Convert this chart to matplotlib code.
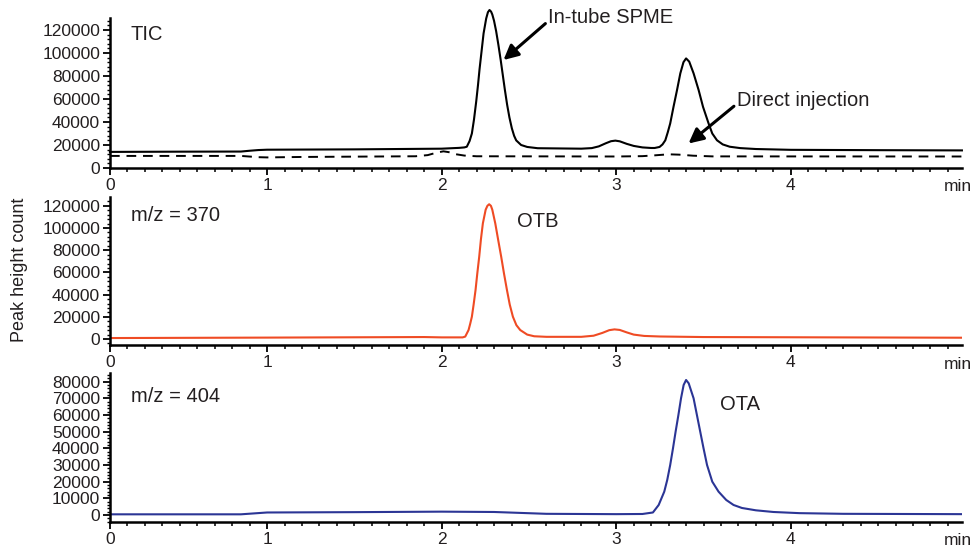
import matplotlib
matplotlib.use('Agg')
import matplotlib.pyplot as plt
from matplotlib.ticker import FixedLocator, AutoMinorLocator

# chromatogram traces (time in min, peak height count)
t_spme = [0.1, 0.5, 0.85, 0.9, 0.95, 1.0, 1.5, 2.0, 2.1, 2.13, 2.144, 2.16, 2.173, 2.185, 2.198,
          2.208, 2.217, 2.24, 2.255, 2.265, 2.274, 2.283, 2.29, 2.3, 2.312, 2.325, 2.338, 2.35,
          2.362, 2.375, 2.388, 2.402, 2.415, 2.427, 2.455, 2.49, 2.55, 2.8, 2.86, 2.9, 2.94, 2.97,
          2.995, 3.02, 3.06, 3.1, 3.15, 3.2, 3.22, 3.248, 3.265, 3.281, 3.295, 3.309, 3.328,
          3.348, 3.367, 3.385, 3.4, 3.418, 3.443, 3.472, 3.497, 3.529, 3.55, 3.577, 3.61, 3.65,
          3.71, 3.8, 4.0, 4.5, 4.98]
tic_spme = [14000, 14200, 14300, 15000, 15600, 15900, 16200, 16800, 17500, 17900, 18500, 23500,
            30000, 42000, 58000, 72000, 86000, 117000, 130000, 135500, 137400, 136000, 133500,
            128000, 119000, 107000, 94000, 81000, 68000, 55000, 44000, 34500, 28000, 24000, 20000,
            18300, 17200, 16800, 17300, 18800, 21500, 23300, 23800, 23200, 21000, 19200, 17900,
            17400, 17400, 18300, 20500, 24100, 31000, 38700, 53200, 67700, 82300, 92000, 95300,
            92500, 82300, 67700, 53200, 38700, 30000, 24100, 20500, 18500, 17300, 16500, 15800,
            15500, 15300]

t_direct = [0.1, 0.85, 0.95, 1.0, 1.2, 1.85, 1.92, 1.97, 2.01, 2.04, 2.08, 2.13, 2.2, 3.0, 3.15,
            3.22, 3.3, 3.36, 3.44, 3.55, 4.98]
tic_direct = [10500, 10500, 9400, 9200, 9600, 10200, 11200, 13300, 14500, 13800, 12000, 10800,
              10200, 10000, 10300, 11000, 11900, 11600, 10700, 10100, 10000]

t_370 = [0.1, 1.0, 1.9, 2.0, 2.12, 2.135, 2.154, 2.163, 2.173, 2.183, 2.194, 2.204, 2.215, 2.225,
         2.236, 2.252, 2.262, 2.272, 2.282, 2.29, 2.307, 2.324, 2.341, 2.357, 2.374, 2.39, 2.408,
         2.428, 2.45, 2.49, 2.53, 2.6, 2.8, 2.87, 2.92, 2.96, 2.99, 3.02, 3.06, 3.1, 3.16, 3.25,
         3.5, 4.0, 4.98]
mz370 = [900, 1300, 1800, 1500, 1500, 2200, 8100, 13500, 20100, 31000, 44100, 59000, 74100,
         90000, 104200, 116500, 120000, 121400, 120000, 116500, 104200, 89000, 74100, 59000,
         44100, 31000, 20100, 12500, 8100, 4000, 2500, 2000, 2000, 3000, 5500, 8000, 8700, 8200,
         6000, 4000, 2800, 2300, 1800, 1600, 1200]

t_404 = [0.1, 0.85, 1.0, 1.5, 2.0, 2.3, 2.6, 3.0, 3.15, 3.21, 3.243, 3.275, 3.292, 3.309, 3.325,
         3.34, 3.356, 3.371, 3.386, 3.4, 3.415, 3.443, 3.462, 3.481, 3.5, 3.52, 3.55, 3.586,
         3.63, 3.672, 3.72, 3.8, 3.9, 4.05, 4.3, 4.98]
mz404 = [400, 400, 1500, 1700, 2000, 1800, 700, 500, 600, 1500, 6000, 14000, 21000, 30000, 40000,
         50000, 60000, 70000, 78000, 81000, 79000, 70000, 60000, 50000, 40000, 30000, 20000,
         14000, 9000, 6000, 4200, 2800, 1800, 1100, 700, 500]

x_ticks = [0.1, 1, 2, 3, 4]
x_labels = ['0', '1', '2', '3', '4']

FONT = 'Liberation Sans'
TXT = '#231f20'
plt.rcParams['font.family'] = [FONT, 'DejaVu Sans']


def style_axis(ax, ylim, ystep):
    """common look of one chromatogram panel"""
    ax.set_xlim(0.1, 4.98)
    ax.set_ylim(*ylim)
    for s in ['top', 'right']:
        ax.spines[s].set_visible(False)
    for s in ['left', 'bottom']:
        ax.spines[s].set_linewidth(1.8)
    ax.xaxis.set_major_locator(FixedLocator(x_ticks))
    ax.set_xticklabels(x_labels)
    minor = [round(0.2 + 0.1 * i, 1) for i in range(48) if round((0.2 + 0.1 * i) % 1, 1) not in (0.0, 1.0)]
    ax.xaxis.set_minor_locator(FixedLocator(minor))
    ax.set_yticks(range(0, int(ylim[1]) + 1, ystep))
    ax.yaxis.set_minor_locator(AutoMinorLocator(5))
    ax.tick_params(axis='both', which='major', labelsize=12.5, labelcolor=TXT, width=1.3, length=5, pad=2)
    ax.tick_params(axis='x', which='minor', width=1.1, length=3)
    ax.tick_params(axis='y', which='minor', width=1.0, length=2.5)
    # "min" sits on the tick label row at the right end
    ax.annotate('min', xy=(4.955, 0), xycoords=('data', 'axes fraction'), xytext=(0, -8),
                textcoords='offset points', ha='center', va='top', fontsize=12.5, color=TXT,
                annotation_clip=False)


fig = plt.figure(figsize=(9.74, 5.49), dpi=100)
ax1 = fig.add_axes([0.1129, 0.694, 0.8747, 0.2727])
ax2 = fig.add_axes([0.1129, 0.3707, 0.8747, 0.27])
ax3 = fig.add_axes([0.1129, 0.0486, 0.8747, 0.2714])

# TIC panel
ax1.plot(t_spme, tic_spme, color='black', lw=1.5, clip_on=False)
ax1.plot(t_direct, tic_direct, color='black', lw=1.4, linestyle=(0, (5, 3.5)))
style_axis(ax1, (0, 130200), 20000)
ax1.text(0.22, 116000, 'TIC', fontsize=14.5, color=TXT, va='center')
ax1.annotate('In-tube SPME', xy=(2.354, 93900), xytext=(2.61, 131000), fontsize=14.5, color=TXT,
             va='center', annotation_clip=False,
             arrowprops=dict(arrowstyle='-|>', color='black', lw=2.2, mutation_scale=22,
                             shrinkA=0, shrinkB=0, relpos=(0, 0.3)))
ax1.annotate('Direct injection', xy=(3.414, 21300), xytext=(3.69, 59000), fontsize=14.5, color=TXT,
             va='center',
             arrowprops=dict(arrowstyle='-|>', color='black', lw=2.2, mutation_scale=22,
                             shrinkA=0, shrinkB=0, relpos=(0, 0.3)))

# m/z 370 panel
ax2.plot(t_370, mz370, color='#ef4b24', lw=1.5)
style_axis(ax2, (-5800, 127700), 20000)
ax2.text(0.22, 111700, 'm/z = 370', fontsize=14.5, color=TXT, va='center')
ax2.text(2.434, 105700, 'OTB', fontsize=14.5, color=TXT, va='center')

# m/z 404 panel
ax3.plot(t_404, mz404, color='#2b3595', lw=1.5)
style_axis(ax3, (-4400, 85000), 10000)
ax3.text(0.22, 71000, 'm/z = 404', fontsize=14.5, color=TXT, va='center')
ax3.text(3.592, 66000, 'OTA', fontsize=14.5, color=TXT, va='center')

fig.text(20 / 974, 1 - 270 / 549, 'Peak height count', rotation=90, ha='center', va='center',
         fontsize=13, color=TXT)

fig.savefig('out.png', dpi=100)
